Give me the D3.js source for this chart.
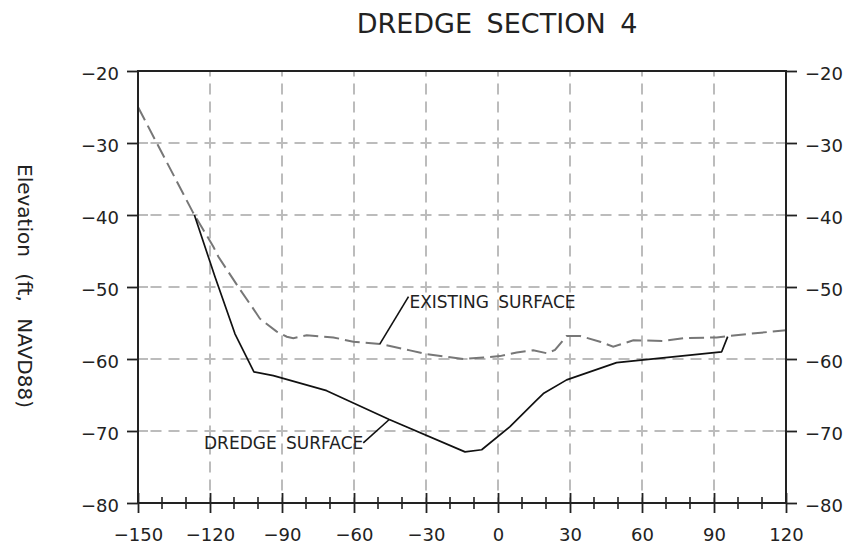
<!DOCTYPE html>
<html>
<head>
<meta charset="utf-8">
<script src="https://cdn.jsdelivr.net/npm/d3@7"></script>
<style>
  html, body { margin: 0; padding: 0; background: #fff; }
  svg { display: block; }
  text { font-family: "DejaVu Sans", sans-serif; fill: #222; }
</style>
</head>
<body>
<svg id="chart" width="856" height="554"></svg>
<script>
// ---- Chart data ----
const titleText = "DREDGE SECTION 4";
const yTitleText = "Elevation (ft, NAVD88)";

const xTicks = [-150, -120, -90, -60, -30, 0, 30, 60, 90, 120];
const xMinorTicks = [-140, -130, -110, -100, -80, -70, -50, -40, -20, -10,
                     10, 20, 40, 50, 70, 80, 100, 110];
const yTicks = [-20, -30, -40, -50, -60, -70, -80];

// Existing ground surface (station ft, elevation ft)
const existingX = [-150, -127, -118.6, -116.5, -108.2, -102, -99.2, -92.2, -88, -85.3,
                   -79.7, -68.6, -60.3, -49.2, -43.6, -36.7, -30, -14.4, -6.1, 0.8,
                   7.8, 14.7, 20.3, 23.75, 28.6, 34.2, 42.5, 48, 56.4, 68.9,
                   77.2, 91.1, 105, 120];
const existingY = [-25, -39.7, -44.4, -45.8, -50, -53, -54.4, -56.2, -56.9, -57.1,
                   -56.7, -57.0, -57.6, -57.9, -58.3, -58.8, -59.3, -60.0, -59.8, -59.6,
                   -59.1, -58.8, -59.2, -58.75, -56.8, -56.8, -57.6, -58.3, -57.4, -57.5,
                   -57.1, -57.0, -56.5, -56.0];

// Design dredge surface
const dredgeX = [-126.5, -118, -109.6, -101.7, -93.6, -71.4, -45.3, -13.75, -6.8, 5,
                 16.1, 18.9, 28.6, 49.4, 93.2, 95.7];
const dredgeY = [-40, -48.5, -56.5, -61.8, -62.3, -64.4, -68.4, -72.9, -72.6, -69.4,
                 -65.7, -64.8, -62.9, -60.5, -59.0, -56.9];

// Callout labels: anchor point on the curve (data units)
const calloutText = ["EXISTING SURFACE", "DREDGE SURFACE"];
const calloutX = [-49.2, -45.3];
const calloutY = [-57.9, -68.4];

// ---- Layout ----
const svg = d3.select("#chart");
const plotL = 138, plotR = 786, plotT = 71, plotB = 503;
const axisColor = "#222";
const gridColor = "#bcbcbc";

const x = d3.scaleLinear().domain([-150, 120]).range([plotL, plotR]);
const y = d3.scaleLinear().domain([-80, -20]).range([plotB, plotT]);

// ---- Grid (dashes centred on each intersection) ----
const grid = svg.append("g")
  .attr("stroke", gridColor)
  .attr("stroke-width", 2)
  .attr("stroke-dasharray", "11 7")
  .attr("stroke-dashoffset", 5.5);

const innerY = yTicks.filter(d => d > -80 && d < -20);

grid.selectAll("line.h")
  .data(innerY)
  .join("line")
  .attr("class", "h")
  .attr("x1", plotL).attr("x2", plotR)
  .attr("y1", d => y(d)).attr("y2", d => y(d));

grid.selectAll("line.v")
  .data(xTicks.filter(d => d > -150 && d < 120))
  .join("line")
  .attr("class", "v")
  .attr("x1", d => x(d)).attr("x2", d => x(d))
  .attr("y1", plotT).attr("y2", plotB);

// short inner ticks on both vertical axes
const inner = svg.append("g").attr("stroke", gridColor).attr("stroke-width", 2);
inner.selectAll("line.l").data(innerY).join("line")
  .attr("class", "l")
  .attr("x1", plotL).attr("x2", plotL + 10)
  .attr("y1", d => y(d)).attr("y2", d => y(d));
inner.selectAll("line.r").data(innerY).join("line")
  .attr("class", "r")
  .attr("x1", plotR - 10).attr("x2", plotR)
  .attr("y1", d => y(d)).attr("y2", d => y(d));

// ---- Curves ----
const line = d3.line().x(d => x(d[0])).y(d => y(d[1]));

svg.append("path")
  .datum(existingX.map((v, i) => [v, existingY[i]]))
  .attr("d", line)
  .attr("fill", "none")
  .attr("stroke", "#777")
  .attr("stroke-width", 2)
  .attr("stroke-dasharray", "15 6");

svg.append("path")
  .datum(dredgeX.map((v, i) => [v, dredgeY[i]]))
  .attr("d", line)
  .attr("fill", "none")
  .attr("stroke", "#111")
  .attr("stroke-width", 1.7)
  .attr("stroke-linejoin", "round");

// ---- Frame ----
svg.append("rect")
  .attr("x", plotL).attr("y", plotT)
  .attr("width", plotR - plotL).attr("height", plotB - plotT)
  .attr("fill", "none")
  .attr("stroke", axisColor)
  .attr("stroke-width", 2);

// ---- Axes ----
function styleAxis(g) {
  g.select(".domain").remove();
  g.selectAll(".tick line").attr("stroke", axisColor).attr("stroke-width", 1.8);
  g.selectAll(".tick text")
    .attr("font-family", "DejaVu Sans, sans-serif")
    .attr("font-size", 18)
    .attr("fill", "#222");
}

const yLeft = svg.append("g")
  .attr("transform", `translate(${plotL},0)`)
  .call(d3.axisLeft(y).tickValues(yTicks).tickSize(11).tickPadding(8))
  .call(styleAxis);
yLeft.selectAll(".tick text").attr("dy", "0.46em");

const yRight = svg.append("g")
  .attr("transform", `translate(${plotR},0)`)
  .call(d3.axisRight(y).tickValues(yTicks).tickSize(11).tickPadding(8))
  .call(styleAxis);
yRight.selectAll(".tick text").attr("dy", "0.46em");

const xAxis = svg.append("g")
  .attr("transform", `translate(0,${plotB})`)
  .call(d3.axisBottom(x).tickValues(xTicks).tickSize(10).tickPadding(15))
  .call(styleAxis);
// major ticks cross the axis line
xAxis.selectAll(".tick line").attr("y1", -10).attr("y2", 10);

// minor ticks every 10 ft, also crossing the axis
svg.append("g")
  .attr("transform", `translate(0,${plotB})`)
  .selectAll("line")
  .data(xMinorTicks)
  .join("line")
  .attr("x1", d => x(d)).attr("x2", d => x(d))
  .attr("y1", -6).attr("y2", 6)
  .attr("stroke", axisColor)
  .attr("stroke-width", 1.6);

// ---- Titles ----
svg.append("text")
  .attr("x", 497).attr("y", 33)
  .attr("text-anchor", "middle")
  .attr("font-size", 27)
  .attr("word-spacing", 6)
  .text(titleText);

svg.append("text")
  .attr("transform", "translate(18,286) rotate(90)")
  .attr("text-anchor", "middle")
  .attr("font-size", 20)
  .attr("word-spacing", 10)
  .text(yTitleText);

// ---- Callouts ----
// Existing surface: leader rises to the upper right, text starts at its top end
{
  const ax = x(calloutX[0]), ay = y(calloutY[0]);
  svg.append("line")
    .attr("x1", ax).attr("y1", ay)
    .attr("x2", ax + 28.6).attr("y2", ay - 47.3)
    .attr("stroke", "#111").attr("stroke-width", 1.6);
  svg.append("text")
    .attr("x", ax + 29.5).attr("y", ay - 35.7)
    .attr("font-size", 17)
    .attr("word-spacing", 4)
    .text(calloutText[0]);
}
// Dredge surface: leader drops to the lower left, text ends at its lower end
{
  const ax = x(calloutX[1]), ay = y(calloutY[1]);
  svg.append("line")
    .attr("x1", ax).attr("y1", ay)
    .attr("x2", ax - 26).attr("y2", ay + 23.4)
    .attr("stroke", "#111").attr("stroke-width", 1.6);
  svg.append("text")
    .attr("x", ax - 26).attr("y", ay + 30)
    .attr("text-anchor", "end")
    .attr("font-size", 17)
    .attr("word-spacing", 4)
    .text(calloutText[1]);
}
</script>
</body>
</html>
